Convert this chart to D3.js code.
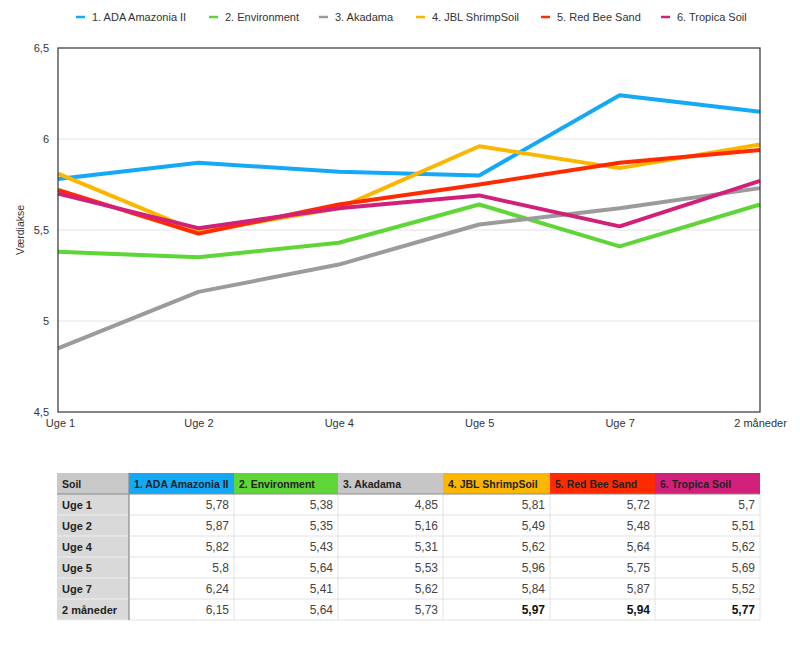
<!DOCTYPE html>
<html><head><meta charset="utf-8">
<script src="https://cdn.jsdelivr.net/npm/d3@7"></script>
<style>
body{margin:0;background:#fff;font-family:"Liberation Sans",Arial,sans-serif;}
svg{display:block;}
</style></head>
<body>
<svg id="c" width="800" height="651"></svg>
<script>
const categories = ["Uge 1","Uge 2","Uge 4","Uge 5","Uge 7","2 måneder"];
const seriesNames = ["1. ADA Amazonia II","2. Environment","3. Akadama","4. JBL ShrimpSoil","5. Red Bee Sand","6. Tropica Soil"];
const seriesColors = ["#14a9f7","#5ed638","#9b9b9b","#fbb700","#ff2a00","#d2207a"];
const headerColors = ["#c8c8c8","#14a9f7","#5ed638","#c6c6c6","#fbb700","#ff2a00","#d2207a"];
const ada = [5.78,5.87,5.82,5.8,6.24,6.15];
const environment = [5.38,5.35,5.43,5.64,5.41,5.64];
const akadama = [4.85,5.16,5.31,5.53,5.62,5.73];
const jbl = [5.81,5.49,5.62,5.96,5.84,5.97];
const redBee = [5.72,5.48,5.64,5.75,5.87,5.94];
const tropica = [5.7,5.51,5.62,5.69,5.52,5.77];
const yTicks = [4.5,5,5.5,6,6.5];
const tableHeader = "Soil";
const boldCells = [[5,3],[5,4],[5,5]];

const series = [ada,environment,akadama,jbl,redBee,tropica];
const fmt = v => String(v).replace(".", ",");

const svg = d3.select("#c");
const L=58, R=760, T=48, B=412;
const x = d3.scalePoint().domain(categories).range([L,R]).padding(0);
const y = d3.scaleLinear().domain([4.5,6.5]).range([B,T]);

// gridlines
svg.append("g").selectAll("line").data(yTicks.filter(v=>v>4.5&&v<6.5)).join("line")
  .attr("x1",L).attr("x2",R).attr("y1",d=>y(d)).attr("y2",d=>y(d))
  .attr("stroke","#e3e3e3").attr("stroke-width",1);

// y axis labels
const yAxis = d3.axisLeft(y).tickValues(yTicks).tickFormat(fmt).tickSize(0).tickPadding(9);
const ga = svg.append("g").attr("transform",`translate(${L},0)`).call(yAxis);
ga.select(".domain").remove();
ga.selectAll("text").attr("font-size",11).attr("fill","#333").attr("font-family","Liberation Sans, Arial, sans-serif");

// x axis labels
const xAxis = d3.axisBottom(x).tickSize(0).tickPadding(7);
const gx = svg.append("g").attr("transform",`translate(0,${B})`).call(xAxis);
gx.select(".domain").remove();
gx.selectAll("text").attr("font-size",11).attr("fill","#333").attr("font-family","Liberation Sans, Arial, sans-serif");
gx.selectAll(".tick").filter(d=>d==="Uge 1").select("text").attr("dx",2);

// axis title
svg.append("text").attr("transform",`translate(24,230) rotate(-90)`).attr("text-anchor","middle")
  .attr("font-size",10.5).attr("fill","#333").text("Værdiakse");

// lines
const line = d3.line().x((d,i)=>x(categories[i])).y(d=>y(d));
series.forEach((s,k)=>{
  svg.append("path").datum(s).attr("d",line).attr("fill","none")
    .attr("stroke",seriesColors[k]).attr("stroke-width",4).attr("stroke-linejoin","round");
});

// frame
svg.append("rect").attr("x",L).attr("y",T).attr("width",R-L).attr("height",B-T)
  .attr("fill","none").attr("stroke","#333").attr("stroke-width",1.2);

// legend
const legX = [76,209,319,416,541,661];
const leg = svg.append("g");
seriesNames.forEach((n,k)=>{
  leg.append("line").attr("x1",legX[k]).attr("x2",legX[k]+9).attr("y1",17).attr("y2",17)
    .attr("stroke",seriesColors[k]).attr("stroke-width",2.5);
  leg.append("text").attr("x",legX[k]+16).attr("y",21).attr("font-size",11).attr("fill","#333").text(n);
});

// table
const colX = [57,129,234,338,443,550,655,760];
const rowY = [473,494,515,536,557,578,599,620];
const tbl = svg.append("g");
const headers = [tableHeader].concat(seriesNames);
headers.forEach((h,c)=>{
  tbl.append("rect").attr("x",colX[c]).attr("y",rowY[0]).attr("width",colX[c+1]-colX[c]).attr("height",rowY[1]-rowY[0])
    .attr("fill", headerColors[c]);
  tbl.append("text").attr("x",colX[c]+5).attr("y",rowY[0]+15).attr("font-size",10.5).attr("font-weight","bold")
    .attr("fill","#222").text(h);
});
categories.forEach((cat,r)=>{
  const y0=rowY[r+1], h=rowY[r+2]-rowY[r+1];
  tbl.append("rect").attr("x",colX[0]).attr("y",y0).attr("width",colX[1]-colX[0]).attr("height",h).attr("fill","#d9d9d9");
  tbl.append("text").attr("x",colX[0]+5).attr("y",y0+15).attr("font-size",11).attr("font-weight","bold").attr("fill","#222").text(cat);
  series.forEach((s,k)=>{
    const bold = boldCells.some(b=>b[0]===r&&b[1]===k);
    tbl.append("text").attr("x",colX[k+2]-5).attr("y",y0+15).attr("text-anchor","end")
      .attr("font-size",12).attr("font-weight",bold?"bold":"normal").attr("fill",bold?"#111":"#444").text(fmt(s[r]));
  });
});
for(let r=2;r<rowY.length;r++){
  tbl.append("line").attr("x1",colX[1]).attr("x2",colX[7]).attr("y1",rowY[r]).attr("y2",rowY[r]).attr("stroke","#e2e2e2");
  tbl.append("line").attr("x1",colX[0]).attr("x2",colX[1]).attr("y1",rowY[r]).attr("y2",rowY[r]).attr("stroke","#eeeeee");
}
for(let c=2;c<colX.length;c++){
  tbl.append("line").attr("x1",colX[c]).attr("x2",colX[c]).attr("y1",rowY[1]).attr("y2",rowY[7]).attr("stroke","#e2e2e2");
}
tbl.append("line").attr("x1",colX[0]).attr("x2",colX[7]).attr("y1",rowY[1]).attr("y2",rowY[1]).attr("stroke","#8a8a8a").attr("stroke-width",1.2);
tbl.append("line").attr("x1",colX[1]).attr("x2",colX[1]).attr("y1",rowY[0]).attr("y2",rowY[7]).attr("stroke","#8a8a8a").attr("stroke-width",1.2);
</script>
</body></html>
